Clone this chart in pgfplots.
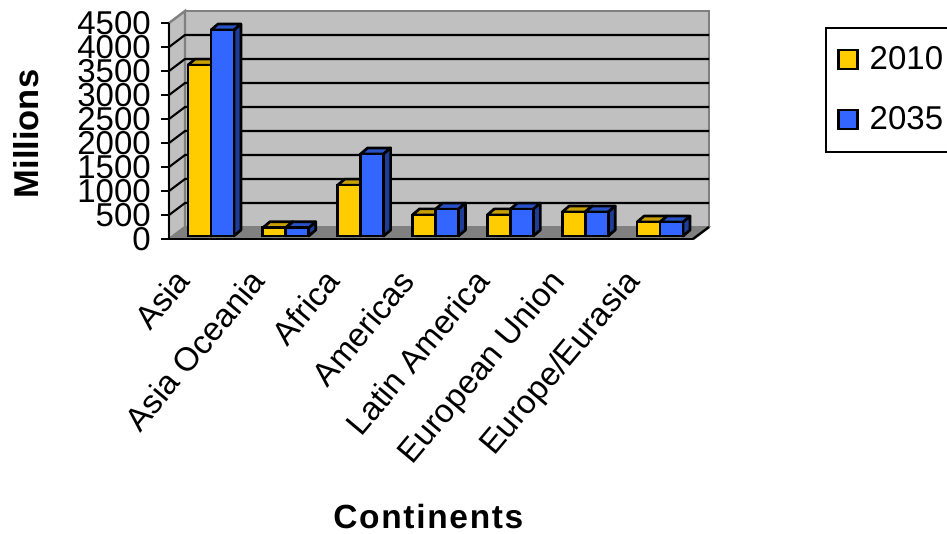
\documentclass[border=0pt]{standalone}
\usepackage{fontspec}
\setmainfont{Liberation Sans}
\usepackage{pgfplots}
\pgfplotsset{compat=1.18}

\definecolor{wallgray}{HTML}{C0C0C0}
\definecolor{floorgray}{HTML}{808080}
\definecolor{barY}{HTML}{FFCC00}
\definecolor{barYtop}{HTML}{C9A000}
\definecolor{barYside}{HTML}{8C7000}
\definecolor{barB}{HTML}{3366FF}
\definecolor{barBtop}{HTML}{2A52C8}
\definecolor{barBside}{HTML}{1F3C96}

% depth of a bar, in axis units
\newcommand{\ddx}{0.0935}
\newcommand{\ddy}{125}
% #1 left edge, #2 right edge, #3 value, #4 top colour, #5 side colour
\newcommand{\barfaces}[5]{%
  \pgfmathsetmacro{\xa}{#1+\ddx}%
  \pgfmathsetmacro{\xb}{#2+\ddx}%
  \pgfmathsetmacro{\yb}{#3+\ddy}%
  \addplot[forget plot, fill=#4, draw=black, line width=2.7pt, line join=round]
    coordinates {(#1,#3) (\xa,\yb) (\xb,\yb) (#2,#3) (#1,#3)};
  \addplot[forget plot, fill=#5, draw=black, line width=2.7pt, line join=round]
    coordinates {(#2,#3) (\xb,\yb) (\xb,\ddy) (#2,0) (#2,#3)};
}
% one grid line: left wall and back wall
\newcommand{\gridl}[1]{%
  \pgfmathsetmacro{\yy}{#1+250}%
  \addplot[forget plot, black, line width=2.1pt]
    coordinates {(0,#1) (0.2137,\yy) (7.2137,\yy)};
}

\begin{document}
\fontsize{33}{36}\selectfont
\begin{tikzpicture}[x=1pt,y=1pt]
\useasboundingbox (0,0) rectangle (947,533);

% room: walls, floor, grid and the axes in front
\begin{axis}[
  at={(169pt,294pt)}, anchor=origin,
  scale only axis, width=524pt, height=216pt,
  xmin=0, xmax=7, ymin=0, ymax=4500,
  clip=false, axis on top,
  axis x line=bottom, axis y line=left,
  axis line style={-, black, line width=2.6pt},
  x axis line style={-}, y axis line style={-},
  ytick={0,500,...,4500},
  xtick={0.5,1.5,2.5,3.5,4.5,5.5,6.5},
  xticklabels={Asia,Asia Oceania,Africa,Americas,Latin America,European Union,Europe/Eurasia},
  minor xtick={0,1,...,7},
  major tick length=8pt,
  x tick style={draw=none},
  y tick style={black, line width=2.2pt},
  minor x tick style={black, line width=2.2pt},
  minor tick length=8pt,
  tick align=outside,
  /pgf/number format/assume math mode=true,
  /pgf/number format/1000 sep={},
  yticklabel style={font=\fontsize{33}{33}\selectfont, inner sep=0pt, xshift=-10pt},
  xticklabel style={font=\fontsize{33}{33}\selectfont, xshift=-33pt, yshift=-20pt, rotate=50, anchor=north east, inner sep=0pt},
  xlabel={\addfontfeature{LetterSpace=5}Continents},
  ylabel={Millions},
  xlabel style={font=\fontsize{33.5}{36}\selectfont\bfseries, at={(axis description cs:0.495,0)}, anchor=base, yshift=-289pt, inner sep=0pt},
  ylabel style={font=\fontsize{34.5}{36}\selectfont\bfseries, at={(axis description cs:0,0.486)}, anchor=base, yshift=130pt, inner sep=0pt},
]
  \addplot[forget plot, fill=wallgray, draw=floorgray, line width=2.4pt]
    coordinates {(0.2137,250) (7.2137,250) (7.2137,4750) (0.2137,4750) (0.2137,250)};
  \addplot[forget plot, fill=wallgray, draw=floorgray, line width=2.4pt]
    coordinates {(0,0) (0.2137,250) (0.2137,4750) (0,4500) (0,0)};
  \gridl{500}\gridl{1000}\gridl{1500}\gridl{2000}\gridl{2500}
  \gridl{3000}\gridl{3500}\gridl{4000}
  \addplot[forget plot, fill=floorgray, draw=floorgray, line width=1.5pt]
    coordinates {(0,0) (0.2137,250) (7.2137,250) (7,0) (0,0)};
  \addplot[forget plot, black, line width=2.4pt]
    coordinates {(7,0) (7.2137,250)};
\end{axis}

% bars, standing slightly behind the front edge of the floor
\begin{axis}[
  at={(173.5pt,297pt)}, anchor=origin,
  scale only axis, width=524pt, height=216pt,
  xmin=0, xmax=7, ymin=0, ymax=4500,
  clip=false, hide axis,
  legend style={
    at={(axis description cs:1.2433,0.9676)}, anchor=north west,
    draw=black, line width=2.4pt, fill=white,
    inner xsep=11pt, inner ysep=16pt,
    font=\fontsize{33}{36}\selectfont,
    cells={anchor=west},
    /tikz/row sep=28pt,
  },
]
  \barfaces{0.1928}{0.5}{3560}{barYtop}{barYside}
  \barfaces{1.1928}{1.5}{170}{barYtop}{barYside}
  \barfaces{2.1928}{2.5}{1060}{barYtop}{barYside}
  \barfaces{3.1928}{3.5}{440}{barYtop}{barYside}
  \barfaces{4.1928}{4.5}{440}{barYtop}{barYside}
  \barfaces{5.1928}{5.5}{500}{barYtop}{barYside}
  \barfaces{6.1928}{6.5}{290}{barYtop}{barYside}
  \addplot[ybar, bar width=23pt, bar shift=-11.5pt, fill=barY, draw=black, line width=2.7pt,
    legend image code/.code={\path (28pt,0pt); \draw[fill=barY, draw=black, line width=2.4pt] (0pt,-9pt) rectangle (19pt,10pt);}]
    coordinates {(0.5,3560) (1.5,170) (2.5,1060) (3.5,440) (4.5,440) (5.5,500) (6.5,290)};
  \addlegendentry{2010}

  \barfaces{0.5}{0.8072}{4290}{barBtop}{barBside}
  \barfaces{1.5}{1.8072}{170}{barBtop}{barBside}
  \barfaces{2.5}{2.8072}{1710}{barBtop}{barBside}
  \barfaces{3.5}{3.8072}{560}{barBtop}{barBside}
  \barfaces{4.5}{4.8072}{560}{barBtop}{barBside}
  \barfaces{5.5}{5.8072}{500}{barBtop}{barBside}
  \barfaces{6.5}{6.8072}{290}{barBtop}{barBside}
  \addplot[ybar, bar width=23pt, bar shift=11.5pt, fill=barB, draw=black, line width=2.7pt,
    legend image code/.code={\path (28pt,0pt); \draw[fill=barB, draw=black, line width=2.4pt] (0pt,-9pt) rectangle (19pt,10pt);}]
    coordinates {(0.5,4290) (1.5,170) (2.5,1710) (3.5,560) (4.5,560) (5.5,500) (6.5,290)};
  \addlegendentry{2035}
\end{axis}
\end{tikzpicture}
\end{document}
